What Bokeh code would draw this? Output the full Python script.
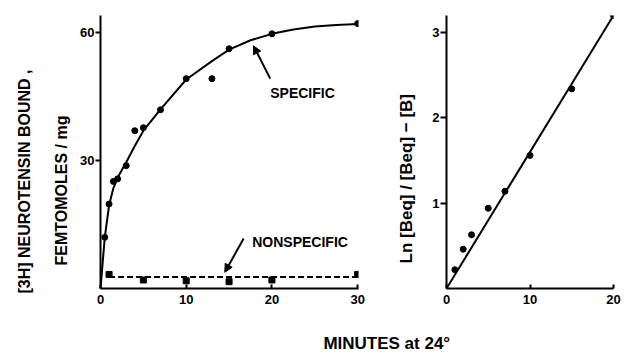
from bokeh.plotting import figure
from bokeh.layouts import column, row
from bokeh.models import Label, Arrow, NormalHead, FixedTicker, Range1d, Title
from bokeh.embed import file_html
from bokeh.resources import INLINE

# ---------------- data ----------------
# left panel: specific binding (points)
spec_t = [0.5, 1, 1.5, 2, 3, 4, 5, 7, 10, 13, 15, 20, 30]
spec_b = [12.0, 19.8, 25.1, 25.7, 28.8, 37.0, 37.7, 41.9, 49.2, 49.2, 56.2, 59.7, 62.1]
# hand-drawn curve through specific binding
curve_t = [0, 0.5, 1, 1.5, 2, 3, 4, 5, 7, 10, 13, 15, 17.5, 20, 22.5, 25, 27.5, 30]
curve_b = [0, 12, 19.5, 23.5, 26, 29.6, 33.4, 37.0, 42.0, 49.0, 53.3, 56.0, 58.2, 59.7, 60.7, 61.4, 61.8, 62.0]
# nonspecific binding
ns_t = [1, 5, 10, 15, 20, 30]
ns_b = [3.3, 2.0, 1.8, 1.6, 2.0, 3.3]
ns_line_t = [1, 30]
ns_line_b = [2.7, 2.7]
left_xticks = [0, 10, 20, 30]
left_yticks = [30, 60]

# right panel: Ln Beq/(Beq-B) vs time
r_t = [1, 2, 3, 5, 7, 10, 15, 20]
r_v = [0.22, 0.46, 0.63, 0.94, 1.14, 1.56, 2.34, 3.2]
r_line_t = [0, 20]
r_line_v = [0, 3.2]
right_xticks = [0, 10, 20]
right_yticks = [1, 2, 3]

FONT = "Liberation Sans"


def style_axes(p, xticks, yticks):
    p.xaxis.ticker = FixedTicker(ticks=xticks)
    p.yaxis.ticker = FixedTicker(ticks=yticks)
    for ax in (p.xaxis, p.yaxis):
        ax.axis_line_width = 2
        ax.axis_line_color = "black"
        ax.major_tick_line_width = 2
        ax.major_tick_line_color = "black"
        ax.minor_tick_line_color = None
        ax.major_label_text_font = FONT
        ax.major_label_text_font_style = "bold"
        ax.major_label_text_font_size = "13px"
        ax.major_label_text_color = "black"
    p.xaxis.major_tick_in = 4
    p.xaxis.major_tick_out = 0
    p.xaxis.major_label_standoff = 6
    p.yaxis.major_tick_in = 0
    p.yaxis.major_tick_out = 5
    p.yaxis.major_label_standoff = 1
    p.xgrid.visible = False
    p.ygrid.visible = False
    p.outline_line_color = None
    p.background_fill_color = "white"
    p.border_fill_color = "white"


def side_title(text, offset, standoff, size="16px"):
    return Title(text=text, align="left", offset=offset, standoff=standoff,
                 text_font=FONT, text_font_style="bold", text_font_size=size,
                 text_color="black")


def note(x, y, text, size="14px", baseline="alphabetic", align="left"):
    return Label(x=x, y=y, text=text, text_font=FONT, text_font_style="bold",
                 text_font_size=size, text_align=align, text_baseline=baseline,
                 text_color="black")


# ---------------- left panel ----------------
p1 = figure(width=370, height=312, output_backend="svg", toolbar_location=None,
            x_range=Range1d(0, 30.1), y_range=Range1d(0, 64),
            min_border_left=100, min_border_right=12, min_border_top=15, min_border_bottom=24)
style_axes(p1, left_xticks, left_yticks)

p1.line(curve_t, curve_b, line_width=2, color="black")
p1.scatter(spec_t, spec_b, size=6, color="black")
p1.line(ns_line_t, ns_line_b, line_width=2, color="black", line_dash="6 3")
p1.scatter(ns_t, ns_b, marker="square", size=6, color="black")

p1.add_layout(note(19.8, 45.9, "SPECIFIC"))
p1.add_layout(note(17.7, 10.8, "NONSPECIFIC"))
p1.add_layout(Arrow(end=NormalHead(size=8, fill_color="black", line_color="black"),
                    x_start=19.8, y_start=49.2, x_end=17.85, y_end=56.9,
                    line_width=2, line_color="black"))
p1.add_layout(Arrow(end=NormalHead(size=8, fill_color="black", line_color="black"),
                    x_start=16.7, y_start=11.7, x_end=14.5, y_end=3.8,
                    line_width=2, line_color="black"))
# y-axis label, two lines (closest line added first)
p1.add_layout(side_title("FEMTOMOLES / mg", 23, 16), "left")
p1.add_layout(side_title("[3H] NEUROTENSIN BOUND ,", -5, 20), "left")

# ---------------- right panel ----------------
p2 = figure(width=255, height=312, output_backend="svg", toolbar_location=None,
            x_range=Range1d(0, 20), y_range=Range1d(0, 3.2),
            min_border_left=76, min_border_right=12, min_border_top=15, min_border_bottom=24)
style_axes(p2, right_xticks, right_yticks)
p2.yaxis.major_tick_out = 6

p2.line(r_line_t, r_line_v, line_width=2, color="black")
p2.scatter(r_t, r_v, size=6, color="black")
p2.add_layout(side_title("Ln [Beq] / [Beq] \u2212 [B]", 25, 27, "17px"), "left")

# ---------------- bottom caption ----------------
p3 = figure(width=625, height=40, output_backend="svg", toolbar_location=None,
            x_range=Range1d(0, 625), y_range=Range1d(0, 40),
            x_axis_location=None, y_axis_location=None,
            min_border=0, min_border_left=0, min_border_right=0,
            min_border_top=0, min_border_bottom=0)
p3.xgrid.visible = False
p3.ygrid.visible = False
p3.outline_line_color = None
p3.add_layout(note(391, 9, "MINUTES  at  24\u00b0", size="17px", baseline="middle", align="center"))

layout = column(row(p1, p2), p3)
open("out.html", "w").write(file_html(layout, INLINE))
